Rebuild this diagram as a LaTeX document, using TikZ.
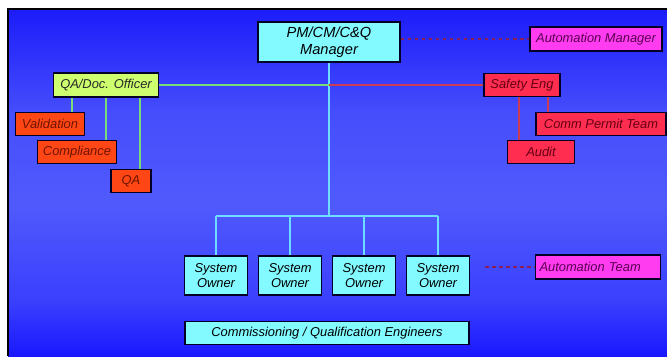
\documentclass[tikz,border=0pt]{standalone}
\usepackage{fontspec}
\setmainfont{Liberation Sans}
\usetikzlibrary{positioning}

\definecolor{bgtop}{RGB}{28,28,250}
\definecolor{bgmid}{RGB}{80,90,252}
\definecolor{bgbot}{RGB}{26,24,255}
\definecolor{cyanfill}{RGB}{130,250,255}
\definecolor{limefill}{RGB}{205,255,110}
\definecolor{orangefill}{RGB}{255,70,20}
\definecolor{redfill}{RGB}{255,45,80}
\definecolor{magfill}{RGB}{255,60,240}
\definecolor{greenln}{RGB}{120,220,120}
\definecolor{redln}{RGB}{205,60,85}
\definecolor{cyanln}{RGB}{110,220,255}
\definecolor{dashln}{RGB}{140,30,90}

% path covers 25bp..75bp of the shading
\pgfdeclareverticalshading{slidebg}{100bp}{
  color(0bp)=(bgbot); color(25bp)=(bgbot); color(33bp)=(bgmid!60!bgbot);
  color(47bp)=(bgmid); color(60bp)=(bgmid!80!bgtop); color(75bp)=(bgtop); color(100bp)=(bgtop)}

\tikzset{
  orgbox/.style={draw=black!85!blue, line width=0.9pt, inner sep=1pt, align=center,
    font=\fontsize{11}{12.4}\selectfont\itshape},
  mgrbox/.style={orgbox, fill=cyanfill, minimum width=42.6mm, minimum height=12mm,
    font=\fontsize{12.5}{15}\selectfont\itshape},
  ownerbox/.style={orgbox, fill=cyanfill, minimum width=18.9mm, minimum height=11.7mm},
  qabox/.style={orgbox, fill=limefill, text=black!85, minimum height=7.2mm},
  taskbox/.style={orgbox, fill=orangefill, text={rgb,255:red,110;green,20;blue,0}, minimum height=6.7mm},
  safebox/.style={orgbox, fill=redfill, text={rgb,255:red,100;green,0;blue,20}, minimum height=6.9mm},
  autobox/.style={orgbox, fill=magfill, text={rgb,255:red,90;green,0;blue,80}, minimum height=7.2mm},
  greenline/.style={greenln, line width=1.1pt},
  redline/.style={redln, line width=1.1pt},
  cyanline/.style={cyanln, line width=1.1pt},
  dashline/.style={dashln, line width=1pt, dashed},
}

\begin{document}
\begin{tikzpicture}[x=0.3mm, y=-0.3mm]
  % background
  \useasboundingbox (0,0) rectangle (667,356);
  \shade[shading=slidebg] (8,9) rectangle (667,356);
  \draw[line width=1pt] (8,356) -- (8,9) -- (667,9);

  % top level
  \node[mgrbox] (mgr) at (329,42) {PM/CM/C\&Q\\Manager};
  \node[autobox, minimum width=39.6mm] (automgr) at (596,39) {Automation Manager};

  % QA branch
  \node[qabox, minimum width=31.5mm] (qadoc) at (106,85) {QA/Doc. Officer};
  \node[taskbox, minimum width=20.7mm] (val) at (50,124) {Validation};
  \node[taskbox, minimum width=23.7mm] (comp) at (77,152) {Compliance};
  \node[taskbox, minimum width=12mm] (qa) at (131,181) {QA};

  % safety branch
  \node[safebox, minimum width=22.8mm] (safety) at (522,85) {Safety Eng};
  \node[safebox, minimum width=39mm] (permit) at (601,124) {Comm Permit Team};
  \node[safebox, minimum width=20.1mm] (audit) at (541,152) {Audit};

  % system owners
  \foreach \i/\x in {1/216,2/290,3/364,4/438}{
    \node[ownerbox] (own\i) at (\x,275.5) {System\\Owner};
  }
  \node[autobox, text width=35.1mm, inner xsep=1.2mm, align=left] (autoteam) at (598,267) {Automation Team};
  \node[orgbox, fill=cyanfill, minimum width=85.2mm, minimum height=6.9mm] (cqe) at (327,333)
    {Commissioning / Qualification Engineers};

  % connectors
  \coordinate (bus) at (329,216);
  \draw[cyanline] (mgr.south) -- (bus);
  \draw[cyanline] (own1.north |- bus) -- (own4.north |- bus);
  \foreach \i in {1,...,4}{
    \draw[cyanline] (own\i.north |- bus) -- (own\i.north);
  }
  \draw[greenline] (qadoc.east) -- (qadoc.east -| mgr.south);
  \draw[redline] (qadoc.east -| mgr.south) -- (safety.west);
  \foreach \n/\x in {val/72,comp/106,qa/140}{
    \draw[greenline] (qadoc.south -| \x,0) -- (\n.north -| \x,0);
  }
  \foreach \n/\x in {audit/519,permit/548}{
    \draw[redline] (safety.south -| \x,0) -- (\n.north -| \x,0);
  }
  \draw[dashline] (automgr.west -| mgr.east) -- (automgr.west);
  \draw[dashline, shorten <=4.5mm] (autoteam.west -| own4.east) -- (autoteam.west);
\end{tikzpicture}
\end{document}
